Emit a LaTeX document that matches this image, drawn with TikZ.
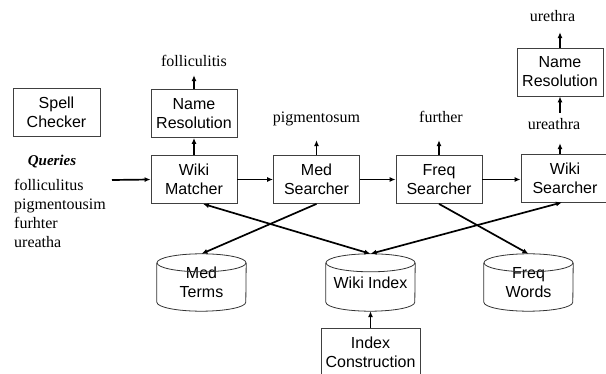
\documentclass[tikz,border=0pt]{standalone}
\usepackage{fontspec}
\setmainfont{Liberation Serif}
\newfontfamily\boxfont{Liberation Sans}
\usetikzlibrary{arrows.meta, calc}

\tikzset{
    box/.style={draw=black!75, line width=0.8pt, minimum width=86pt, minimum height=48pt,
        align=center, inner sep=1pt, font=\boxfont\fontsize{16}{19}\selectfont},
    store/.style={minimum width=89pt, minimum height=57pt, align=center, inner sep=0pt,
        text depth=-10pt, font=\boxfont\fontsize{16}{19}\selectfont},
    storeline/.style={draw=black!80, line width=0.8pt},
    word/.style={inner sep=0pt, text depth=0pt, font=\fontsize{16}{19}\selectfont},
    arr/.style={line width=1.7pt, -{Latex[length=6pt, width=5pt]}},
    arrboth/.style={line width=1.7pt, {Latex[length=6pt, width=5pt]}-{Latex[length=6pt, width=5pt]}},
}

\begin{document}
\begin{tikzpicture}[x=1pt, y=-1pt]

        \useasboundingbox (0, 0) rectangle (606, 374);

        % boxes
        \node[box, minimum width=87pt] (sc) at (56.5, 112.5) {Spell\\Checker};
        \node[box] (nr1) at (194, 113.5) {Name\\Resolution};
        \node[box] (wm) at (194, 179.5) {Wiki\\Matcher};
        \node[box] (ms) at (316.5, 179.5) {Med\\Searcher};
        \node[box] (fs) at (439, 179.5) {Freq\\Searcher};
        \node[box, minimum width=88pt] (ws) at (565, 178) {Wiki\\Searcher};
        \node[box] (nr2) at (560, 72) {Name\\Resolution};
        \node[box, minimum width=99pt] (ic) at (370.5, 352) {Index\\Construction};

        % stores
        \node[store] (mt) at (201.5, 282.5) {Med\\Terms};
        \node[store] (wi) at (370.5, 282.5) {Wiki Index};
        \node[store] (fw) at (528.5, 282.5) {Freq\\Words};
        \foreach \s in {mt, wi, fw} {
            \draw[storeline] ($(\s.north west) + (0, 9)$) -- ($(\s.south west) + (0, -9)$)
                arc[start angle=180, end angle=0, x radius=44.5, y radius=9]
                -- ($(\s.north east) + (0, 9)$);
            \draw[storeline] ($(\s.north) + (0, 9)$) ellipse [x radius=44.5, y radius=9];
        }

        % queries
        \node[font=\bfseries\itshape\fontsize{15}{18}\selectfont, anchor=base] (qh) at (52, 166) {Queries};
        \foreach \w [count=\i] in {folliculitus, pigmentousim, furhter, ureatha}
            \node[word, anchor=base west] (q\i) at (14, {172 + 19*\i}) {\w};
        \coordinate (in) at (112, 180);

        % outputs
        \node[word, anchor=base] (t1) at (194, 67) {folliculitis};
        \node[word, anchor=base] (t2) at (316.5, 123) {pigmentosum};
        \node[word, anchor=base] (t3) at (441, 123) {further};
        \node[word, anchor=base] (t4) at (554, 130) {ureathra};
        \node[word, anchor=base] (t5) at (552.5, 22) {urethra};

        % flow
        \draw[arr] (in) -- (wm.west);
        \draw[arr] (wm) -- (ms);
        \draw[arr] (ms) -- (fs);
        \draw[arr] (fs) -- (ws.west |- fs.east);

        \draw[arr] (wm.north) -- (nr1.south);
        \draw[arr, shorten >=8pt] (nr1.north) -- (nr1.north |- t1.south);
        \draw[arr, shorten >=17pt] (ms.north) -- (ms.north |- t2.south);
        \draw[arr, shorten >=17pt] (fs.north) -- (fs.north |- t3.south);
        \draw[arr, shorten >=13pt] (nr2.south |- ws.north) -- (nr2.south |- t4.south);
        \draw[arr, shorten <=6pt] (nr2.south |- t4.north) -- (nr2.south);
        \draw[arr, shorten >=10pt] (nr2.north) -- (nr2.north |- t5.south);

        % lookups
        \draw[arrboth] ($(wm.south) + (9, 0)$) -- (wi.north);
        \draw[arrboth] ($(ws.south) + (-3, 0)$) -- (wi.north);
        \draw[arr] (ms.south) -- (mt.north);
        \draw[arr] (fs.south) -- (fw.north);
        \draw[arr] (ic.north) -- (wi.south);

\end{tikzpicture}
\end{document}
